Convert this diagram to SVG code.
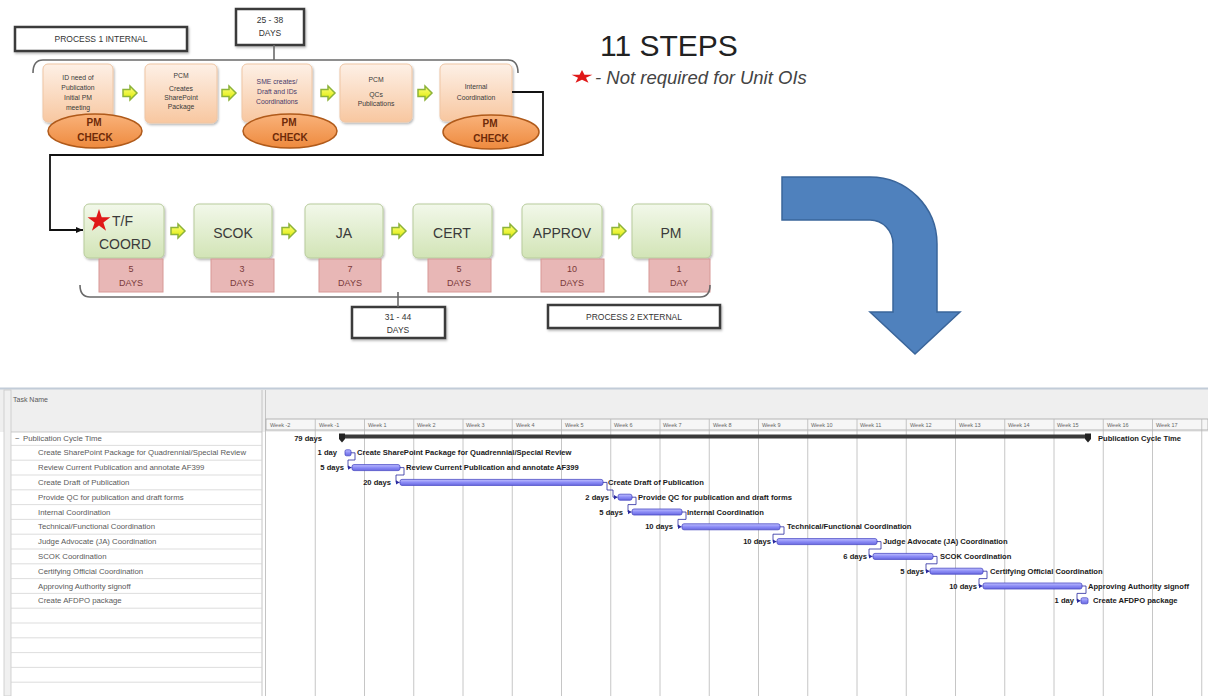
<svg xmlns="http://www.w3.org/2000/svg" width="1208" height="696" viewBox="0 0 1208 696">
<defs>
  <linearGradient id="peach" x1="0" y1="0" x2="0" y2="1"><stop offset="0" stop-color="#fdf0e6"/><stop offset="1" stop-color="#f8c7a0"/></linearGradient>
  <linearGradient id="green" x1="0" y1="0" x2="0" y2="1"><stop offset="0" stop-color="#f2f8ea"/><stop offset="1" stop-color="#d2e4b6"/></linearGradient>
  <linearGradient id="orange" x1="0" y1="0" x2="0" y2="1"><stop offset="0" stop-color="#f9b27a"/><stop offset="1" stop-color="#ee8a3e"/></linearGradient>
  <linearGradient id="yel" x1="0" y1="0" x2="0" y2="1"><stop offset="0" stop-color="#ffff80"/><stop offset="1" stop-color="#dcea00"/></linearGradient>
  <linearGradient id="bar" x1="0" y1="0" x2="0" y2="1"><stop offset="0" stop-color="#c0c0ff"/><stop offset="0.5" stop-color="#8c8cf6"/><stop offset="1" stop-color="#6a6ae0"/></linearGradient>
  <filter id="sh" x="-10%" y="-10%" width="130%" height="140%"><feDropShadow dx="1" dy="1.5" stdDeviation="1.2" flood-color="#000" flood-opacity="0.3"/></filter>
  <polygon id="star" points="0,-1 0.2245,-0.309 0.951,-0.309 0.363,0.118 0.588,0.809 0,0.382 -0.588,0.809 -0.363,0.118 -0.951,-0.309 -0.2245,-0.309"/>
  <path id="yarrow" d="M-7,-3.5 H0 V-7 L7,0 L0,7 V3.5 H-7 Z"/>
  <marker id="ah" markerWidth="8" markerHeight="8" refX="7" refY="4" orient="auto" markerUnits="userSpaceOnUse"><path d="M0,1 L7,4 L0,7 Z" fill="#111"/></marker>
  <marker id="la" markerWidth="5" markerHeight="5" refX="4" refY="2.5" orient="auto" markerUnits="userSpaceOnUse"><path d="M0,0 L4,2.5 L0,5 Z" fill="#2a2aa0"/></marker>
</defs>
<style>
  text{font-family:"Liberation Sans",Arial,Helvetica,sans-serif}
  .frame{fill:#fff;stroke:#3a3a3a;stroke-width:2.5}
  .ftxt{font-size:8.5px;fill:#333;text-anchor:middle}
  .peach{fill:url(#peach);stroke:#efc6a4;stroke-width:1}
  .ptxt{font-size:6.8px;fill:#3a3a3a;text-anchor:middle}
  .ell{fill:url(#orange);stroke:#b05a1a;stroke-width:1.5}
  .etxt{font-size:10px;font-weight:bold;fill:#6e2a08;text-anchor:middle}
  .ya{fill:url(#yel);stroke:#8db33a;stroke-width:1.5}
  .gbox{fill:url(#green);stroke:#b8cc9c;stroke-width:1}
  .gtxt{font-size:14px;fill:#3a3a3a;text-anchor:middle}
  .dbox{fill:#e8b7b6;stroke:#d79896;stroke-width:1}
  .dtxt{font-size:9px;fill:#7a3a3a;text-anchor:middle}
  .conn{fill:none;stroke:#111;stroke-width:1.8}
  .brace{fill:none;stroke:#6a6a6a;stroke-width:1.6}
  .tn{font-size:7.8px;fill:#5a5a5a}
  .wk{font-size:5.5px;fill:#666}
  .rl{stroke:#d4d4d4;stroke-width:0.8}
  .vg{stroke:#b8b8b8;stroke-width:0.8}
  .gb{fill:url(#bar);stroke:#4a4ac4;stroke-width:0.8}
  .gl{font-size:7.6px;font-weight:bold;fill:#1a1a1a}
  .gd{font-size:7.6px;font-weight:bold;fill:#1a1a1a;text-anchor:end}
  .lk{fill:none;stroke:#2a2aa0;stroke-width:0.8}
</style>

<!-- ===== Process 1 ===== -->
<g id="process1-label">
  <rect class="frame" x="15" y="27" width="172" height="24" filter="url(#sh)"/>
  <text class="ftxt" x="101" y="42">PROCESS 1 INTERNAL</text>
</g>
<g id="days-25-38">
  <rect class="frame" x="236" y="9" width="68" height="36" filter="url(#sh)"/>
  <text class="ftxt" x="270" y="23">25 - 38</text>
  <text class="ftxt" x="270" y="36">DAYS</text>
</g>

<g id="p1-step1">
  <rect class="peach" x="43" y="64" width="70" height="58" rx="5" filter="url(#sh)"/>
  <text class="ptxt" x="78" y="80">ID need of</text>
  <text class="ptxt" x="78" y="90">Publication</text>
  <text class="ptxt" x="78" y="100">Initial PM</text>
  <text class="ptxt" x="78" y="110">meeting</text>
</g>
<g id="p1-step2">
  <rect class="peach" x="145" y="64" width="72" height="59" rx="5" filter="url(#sh)"/>
  <text class="ptxt" x="181" y="78">PCM</text>
  <text class="ptxt" x="181" y="91">Creates</text>
  <text class="ptxt" x="181" y="100">SharePoint</text>
  <text class="ptxt" x="181" y="109">Package</text>
</g>
<g id="p1-step3">
  <rect class="peach" x="242" y="64" width="70" height="58" rx="5" filter="url(#sh)"/>
  <text class="ptxt" x="277" y="84" style="fill:#4a3a6a">SME creates/</text>
  <text class="ptxt" x="277" y="94" style="fill:#4a3a6a">Draft and IDs</text>
  <text class="ptxt" x="277" y="104" style="fill:#4a3a6a">Coordinations</text>
</g>
<g id="p1-step4">
  <rect class="peach" x="340" y="64" width="72" height="58" rx="5" filter="url(#sh)"/>
  <text class="ptxt" x="376" y="82">PCM</text>
  <text class="ptxt" x="376" y="97">QCs</text>
  <text class="ptxt" x="376" y="106">Publications</text>
</g>
<g id="p1-step5">
  <rect class="peach" x="440" y="64" width="72" height="57" rx="5" filter="url(#sh)"/>
  <text class="ptxt" x="476" y="89">Internal</text>
  <text class="ptxt" x="476" y="100">Coordination</text>
</g>

<g id="pmcheck1">
  <ellipse class="ell" cx="95" cy="131" rx="47" ry="17"/>
  <text class="etxt" x="94" y="126">PM</text>
  <text class="etxt" x="95" y="141">CHECK</text>
</g>
<g id="pmcheck2">
  <ellipse class="ell" cx="290" cy="131" rx="47" ry="17"/>
  <text class="etxt" x="289" y="126">PM</text>
  <text class="etxt" x="290" y="141">CHECK</text>
</g>
<g id="pmcheck3">
  <ellipse class="ell" cx="491" cy="132" rx="48" ry="17"/>
  <text class="etxt" x="490" y="127">PM</text>
  <text class="etxt" x="491" y="142">CHECK</text>
</g>

<!-- legend -->
<g id="legend">
  <text x="600" y="56" font-size="30" fill="#222">11 STEPS</text>
  <use href="#star" transform="translate(582,77) scale(11,7)" fill="#e01818"/>
  <text x="595" y="84" font-size="18.5" font-style="italic" fill="#444">- Not required for Unit OIs</text>
</g>

<!-- ===== Process 2 ===== -->
<g id="p2-tfcoord">
  <rect class="gbox" x="84" y="204" width="80" height="54" rx="5" filter="url(#sh)"/>
  <use href="#star" transform="translate(99,221) scale(12)" fill="#e01818"/>
  <text class="gtxt" x="112" y="226" style="text-anchor:start">T/F</text>
  <text class="gtxt" x="125" y="249">COORD</text>
</g>
<g id="p2-scok">
  <rect class="gbox" x="194" y="204" width="78" height="54" rx="5" filter="url(#sh)"/>
  <text class="gtxt" x="233" y="238">SCOK</text>
</g>
<g id="p2-ja">
  <rect class="gbox" x="305" y="204" width="78" height="54" rx="5" filter="url(#sh)"/>
  <text class="gtxt" x="344" y="238">JA</text>
</g>
<g id="p2-cert">
  <rect class="gbox" x="413" y="204" width="79" height="54" rx="5" filter="url(#sh)"/>
  <text class="gtxt" x="452" y="238">CERT</text>
</g>
<g id="p2-approv">
  <rect class="gbox" x="522" y="204" width="80" height="54" rx="5" filter="url(#sh)"/>
  <text class="gtxt" x="562" y="238">APPROV</text>
</g>
<g id="p2-pm">
  <rect class="gbox" x="632" y="204" width="79" height="54" rx="5" filter="url(#sh)"/>
  <text class="gtxt" x="671" y="238">PM</text>
</g>

<g id="days-boxes">
  <rect class="dbox" x="99" y="259" width="64" height="33"/>
  <text class="dtxt" x="131" y="272">5</text><text class="dtxt" x="131" y="286">DAYS</text>
  <rect class="dbox" x="211" y="259" width="63" height="33"/>
  <text class="dtxt" x="242" y="272">3</text><text class="dtxt" x="242" y="286">DAYS</text>
  <rect class="dbox" x="319" y="259" width="62" height="33"/>
  <text class="dtxt" x="350" y="272">7</text><text class="dtxt" x="350" y="286">DAYS</text>
  <rect class="dbox" x="428" y="259" width="63" height="33"/>
  <text class="dtxt" x="459" y="272">5</text><text class="dtxt" x="459" y="286">DAYS</text>
  <rect class="dbox" x="541" y="259" width="63" height="33"/>
  <text class="dtxt" x="572" y="272">10</text><text class="dtxt" x="572" y="286">DAYS</text>
  <rect class="dbox" x="649" y="259" width="61" height="33"/>
  <text class="dtxt" x="679" y="272">1</text><text class="dtxt" x="679" y="286">DAY</text>
</g>

<g id="days-31-44">
  <rect class="frame" x="352" y="307" width="93" height="31" filter="url(#sh)"/>
  <text class="ftxt" x="398" y="320">31 - 44</text>
  <text class="ftxt" x="398" y="333">DAYS</text>
</g>
<g id="process2-label">
  <rect class="frame" x="548" y="305" width="172" height="23" filter="url(#sh)"/>
  <text class="ftxt" x="634" y="320">PROCESS 2 EXTERNAL</text>
</g>

<!-- big blue turn arrow -->
<g id="turn-arrow">
  <path d="M782,177 H870 A67,67 0 0 1 937,244 V312 H960 L915,354 L870,312 H893 V244 A23,24 0 0 0 870,220 H782 Z" fill="#4f81bd" stroke="#3a659a" stroke-width="1.5"/>
</g>

<!-- ===== connectors ===== -->
<g id="connectors">
  <path class="brace" d="M33,73 Q33,60 43,60 H508 Q518,60 518,73"/>
  <line class="brace" x1="274" y1="45" x2="274" y2="60"/>
  <path class="brace" d="M80,285 Q80,297 90,297 H700 Q710,297 710,285"/>
  <line class="brace" x1="398" y1="292" x2="398" y2="307"/>
  <path class="conn" d="M512,92 H543 V155 H50 V230 H83" marker-end="url(#ah)"/>
  <use href="#yarrow" class="ya" x="130" y="93"/>
  <use href="#yarrow" class="ya" x="229" y="93"/>
  <use href="#yarrow" class="ya" x="328" y="93"/>
  <use href="#yarrow" class="ya" x="425" y="93"/>
  <use href="#yarrow" class="ya" x="178" y="231"/>
  <use href="#yarrow" class="ya" x="289" y="231"/>
  <use href="#yarrow" class="ya" x="399" y="231"/>
  <use href="#yarrow" class="ya" x="510" y="231"/>
  <use href="#yarrow" class="ya" x="619" y="231"/>
</g>

<!-- ===== Gantt chart ===== -->
<g id="gantt-frame">
  <rect x="0" y="389" width="1208" height="307" fill="#fff"/>
  <rect x="0" y="389" width="1208" height="43" fill="#efefef"/>
  <line x1="0" y1="388.5" x2="1208" y2="388.5" stroke="#c2ccd8" stroke-width="2"/>
  <rect x="4" y="390" width="7" height="306" fill="#f0f0f0" stroke="#c8c8c8" stroke-width="0.8"/>
  <line x1="262" y1="390" x2="262" y2="696" stroke="#c4c4c4" stroke-width="1"/>
  <line x1="265.5" y1="390" x2="265.5" y2="696" stroke="#c4c4c4" stroke-width="1"/>
  <line x1="11" y1="432" x2="262" y2="432" stroke="#c0c0c0" stroke-width="0.8"/>
  <text class="tn" x="13" y="402" style="font-size:7px">Task Name</text>
</g>

<g id="gantt-timescale">
  <rect x="266" y="419" width="942" height="11" fill="#f6f6f6" stroke="#a8a8a8" stroke-width="0.8"/>
  <g class="vg">
    <line x1="315.25" y1="419" x2="315.25" y2="696"/>
    <line x1="364.5" y1="419" x2="364.5" y2="696"/>
    <line x1="413.75" y1="419" x2="413.75" y2="696"/>
    <line x1="463" y1="419" x2="463" y2="696"/>
    <line x1="512.25" y1="419" x2="512.25" y2="696"/>
    <line x1="561.5" y1="419" x2="561.5" y2="696"/>
    <line x1="610.75" y1="419" x2="610.75" y2="696"/>
    <line x1="660" y1="419" x2="660" y2="696"/>
    <line x1="709.25" y1="419" x2="709.25" y2="696"/>
    <line x1="758.5" y1="419" x2="758.5" y2="696"/>
    <line x1="807.75" y1="419" x2="807.75" y2="696"/>
    <line x1="857" y1="419" x2="857" y2="696"/>
    <line x1="906.25" y1="419" x2="906.25" y2="696"/>
    <line x1="955.5" y1="419" x2="955.5" y2="696"/>
    <line x1="1004.75" y1="419" x2="1004.75" y2="696"/>
    <line x1="1054" y1="419" x2="1054" y2="696"/>
    <line x1="1103.25" y1="419" x2="1103.25" y2="696"/>
    <line x1="1152.5" y1="419" x2="1152.5" y2="696"/>
    <line x1="1201.75" y1="419" x2="1201.75" y2="696"/>
  </g>
  <text class="wk" x="270" y="427">Week -2</text>
  <text class="wk" x="319" y="427">Week -1</text>
  <text class="wk" x="368" y="427">Week 1</text>
  <text class="wk" x="417" y="427">Week 2</text>
  <text class="wk" x="466" y="427">Week 3</text>
  <text class="wk" x="516" y="427">Week 4</text>
  <text class="wk" x="565" y="427">Week 5</text>
  <text class="wk" x="614" y="427">Week 6</text>
  <text class="wk" x="663" y="427">Week 7</text>
  <text class="wk" x="713" y="427">Week 8</text>
  <text class="wk" x="762" y="427">Week 9</text>
  <text class="wk" x="811" y="427">Week 10</text>
  <text class="wk" x="860" y="427">Week 11</text>
  <text class="wk" x="910" y="427">Week 12</text>
  <text class="wk" x="959" y="427">Week 13</text>
  <text class="wk" x="1008" y="427">Week 14</text>
  <text class="wk" x="1057" y="427">Week 15</text>
  <text class="wk" x="1107" y="427">Week 16</text>
  <text class="wk" x="1156" y="427">Week 17</text>
</g>

<g id="gantt-rows">
  <g class="rl">
    <line x1="11" y1="445.4" x2="262" y2="445.4"/>
    <line x1="11" y1="460.2" x2="262" y2="460.2"/>
    <line x1="11" y1="475" x2="262" y2="475"/>
    <line x1="11" y1="489.8" x2="262" y2="489.8"/>
    <line x1="11" y1="504.6" x2="262" y2="504.6"/>
    <line x1="11" y1="519.4" x2="262" y2="519.4"/>
    <line x1="11" y1="534.2" x2="262" y2="534.2"/>
    <line x1="11" y1="549" x2="262" y2="549"/>
    <line x1="11" y1="563.8" x2="262" y2="563.8"/>
    <line x1="11" y1="578.6" x2="262" y2="578.6"/>
    <line x1="11" y1="593.4" x2="262" y2="593.4"/>
    <line x1="11" y1="608.2" x2="262" y2="608.2"/>
    <line x1="11" y1="623" x2="262" y2="623"/>
    <line x1="11" y1="637.8" x2="262" y2="637.8"/>
    <line x1="11" y1="652.6" x2="262" y2="652.6"/>
    <line x1="11" y1="667.4" x2="262" y2="667.4"/>
    <line x1="11" y1="682.2" x2="262" y2="682.2"/>
  </g>
  <text class="tn" x="15" y="440.6">−</text>
  <text class="tn" x="23" y="440.6">Publication Cycle Time</text>
  <text class="tn" x="38" y="455.4">Create SharePoint Package for Quadrennial/Special Review</text>
  <text class="tn" x="38" y="470.2">Review Current Publication and annotate AF399</text>
  <text class="tn" x="38" y="485">Create Draft  of Publication</text>
  <text class="tn" x="38" y="499.8">Provide QC for publication and draft forms</text>
  <text class="tn" x="38" y="514.6">Internal Coordination</text>
  <text class="tn" x="38" y="529.4">Technical/Functional Coordination</text>
  <text class="tn" x="38" y="544.2">Judge Advocate (JA) Coordination</text>
  <text class="tn" x="38" y="559">SCOK Coordination</text>
  <text class="tn" x="38" y="573.8">Certifying Official Coordination</text>
  <text class="tn" x="38" y="588.6">Approving Authority signoff</text>
  <text class="tn" x="38" y="603.4">Create AFDPO package</text>
</g>

<g id="gantt-summary">
  <rect x="342" y="434.5" width="746" height="4" fill="#3a3a3a"/>
  <polygon points="339,433.5 345,433.5 345,439 342,442.5 339,439" fill="#222"/>
  <polygon points="1085,433.5 1091,433.5 1091,439 1088,442.5 1085,439" fill="#222"/>
  <text class="gd" x="322" y="440.6">79 days</text>
  <text class="gl" x="1098" y="440.6">Publication Cycle Time</text>
</g>

<g id="gantt-tasks">
  <rect class="gb" x="345" y="449.8" width="6" height="6" rx="1.5"/>
  <text class="gd" x="337" y="455.4">1 day</text>
  <text class="gl" x="357" y="455.4">Create SharePoint Package for Quadrennial/Special Review</text>

  <rect class="gb" x="352" y="464.6" width="48" height="6" rx="2"/>
  <text class="gd" x="344" y="470.2">5 days</text>
  <text class="gl" x="406" y="470.2">Review Current Publication and annotate AF399</text>

  <rect class="gb" x="400" y="479.4" width="203" height="6" rx="2"/>
  <text class="gd" x="391" y="485">20 days</text>
  <text class="gl" x="608" y="485">Create Draft  of Publication</text>

  <rect class="gb" x="618" y="494.2" width="14" height="6" rx="2"/>
  <text class="gd" x="609" y="499.8">2 days</text>
  <text class="gl" x="638" y="499.8">Provide QC for publication and draft forms</text>

  <rect class="gb" x="632" y="509" width="50" height="6" rx="2"/>
  <text class="gd" x="623" y="514.6">5 days</text>
  <text class="gl" x="687" y="514.6">Internal Coordination</text>

  <rect class="gb" x="682" y="523.8" width="98" height="6" rx="2"/>
  <text class="gd" x="673" y="529.4">10 days</text>
  <text class="gl" x="787" y="529.4">Technical/Functional Coordination</text>

  <rect class="gb" x="777" y="538.6" width="100" height="6" rx="2"/>
  <text class="gd" x="771" y="544.2">10 days</text>
  <text class="gl" x="883" y="544.2">Judge Advocate (JA) Coordination</text>

  <rect class="gb" x="873" y="553.4" width="60" height="6" rx="2"/>
  <text class="gd" x="867" y="559">6 days</text>
  <text class="gl" x="940" y="559">SCOK Coordination</text>

  <rect class="gb" x="930" y="568.2" width="53" height="6" rx="2"/>
  <text class="gd" x="924" y="573.8">5 days</text>
  <text class="gl" x="990" y="573.8">Certifying Official Coordination</text>

  <rect class="gb" x="983" y="583" width="99" height="6" rx="2"/>
  <text class="gd" x="977" y="588.6">10 days</text>
  <text class="gl" x="1088" y="588.6">Approving Authority signoff</text>

  <rect class="gb" x="1081" y="597.8" width="7" height="6" rx="1.5"/>
  <text class="gd" x="1074" y="603.4">1 day</text>
  <text class="gl" x="1093" y="603.4">Create AFDPO package</text>
</g>

<g id="gantt-links">
  <path class="lk" d="M351,452.8 H355 V460 H348 V467.6 H351.5" marker-end="url(#la)"/>
  <path class="lk" d="M400,467.6 H404 V475 H396 V482.4 H399.5" marker-end="url(#la)"/>
  <path class="lk" d="M603,482.4 H607 V490 H613 V497.2 H617.5" marker-end="url(#la)"/>
  <path class="lk" d="M632,497.2 H636 V504.6 H628 V512 H631.5" marker-end="url(#la)"/>
  <path class="lk" d="M682,512 H686 V519.4 H678 V526.8 H681.5" marker-end="url(#la)"/>
  <path class="lk" d="M780,526.8 H784 V534.2 H773 V541.6 H776.5" marker-end="url(#la)"/>
  <path class="lk" d="M877,541.6 H881 V549 H869 V556.4 H872.5" marker-end="url(#la)"/>
  <path class="lk" d="M933,556.4 H937 V563.8 H926 V571.2 H929.5" marker-end="url(#la)"/>
  <path class="lk" d="M983,571.2 H987 V578.6 H979 V586 H982.5" marker-end="url(#la)"/>
  <path class="lk" d="M1082,586 H1086 V593.4 H1077 V600.8 H1080.5" marker-end="url(#la)"/>
</g>
</svg>
